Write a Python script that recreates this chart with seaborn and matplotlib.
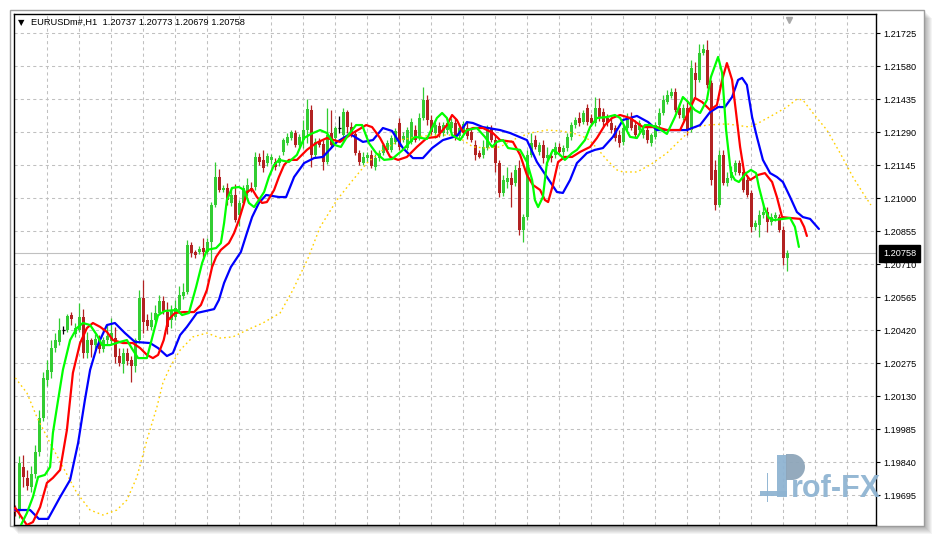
import numpy as np
import pandas as pd
import matplotlib
matplotlib.use("Agg")
import matplotlib.pyplot as plt
import matplotlib.transforms as mtransforms
from matplotlib.patches import Rectangle, Wedge
from matplotlib.ticker import FormatStrFormatter
import seaborn as sns

# ---------------- data (EURUSDm#, H1) ----------------
open_ = [
    1.19640, 1.19631, 1.19820, 1.19772, 1.19732, 1.19789, 1.19886, 1.20035, 1.20202, 1.20237,
    1.20342, 1.20369, 1.20423, 1.20421, 1.20487, 1.20404, 1.20421, 1.20478, 1.20320, 1.20377,
    1.20355, 1.20382, 1.20338, 1.20377, 1.20373, 1.20386, 1.20307, 1.20272, 1.20320, 1.20290,
    1.20263, 1.20377, 1.20562, 1.20465, 1.20435, 1.20465, 1.20496, 1.20549, 1.20500, 1.20465,
    1.20478, 1.20509, 1.20571, 1.20588, 1.20794, 1.20764, 1.20764, 1.20781, 1.20764, 1.20808,
    1.20970, 1.21093, 1.21036, 1.21045, 1.20979, 1.21014, 1.20926, 1.20979, 1.21023, 1.21045,
    1.21049, 1.21181, 1.21168, 1.21154, 1.21168, 1.21159, 1.21154, 1.21203, 1.21242, 1.21264,
    1.21286, 1.21233, 1.21255, 1.21299, 1.21387, 1.21190, 1.21251, 1.21238, 1.21159, 1.21286,
    1.21264, 1.21308, 1.21277, 1.21378, 1.21312, 1.21282, 1.21198, 1.21154, 1.21176, 1.21190,
    1.21137, 1.21176, 1.21198, 1.21212, 1.21212, 1.21247, 1.21330, 1.21255, 1.21220, 1.21247,
    1.21299, 1.21269, 1.21352, 1.21431, 1.21343, 1.21286, 1.21317, 1.21286, 1.21299, 1.21308,
    1.21330, 1.21273, 1.21295, 1.21308, 1.21290, 1.21233, 1.21198, 1.21190, 1.21220, 1.21308,
    1.21255, 1.21154, 1.21023, 1.21071, 1.21089, 1.21067, 1.21133, 1.20860, 1.20917, 1.21190,
    1.21255, 1.21203, 1.21233, 1.21176, 1.21185, 1.21190, 1.21225, 1.21203, 1.21220, 1.21269,
    1.21321, 1.21352, 1.21334, 1.21396, 1.21352, 1.21330, 1.21396, 1.21378, 1.21352, 1.21330,
    1.21308, 1.21277, 1.21247, 1.21308, 1.21352, 1.21321, 1.21299, 1.21277, 1.21299, 1.21242,
    1.21269, 1.21321, 1.21374, 1.21422, 1.21449, 1.21466, 1.21396, 1.21352, 1.21396, 1.21299,
    1.21550, 1.21519, 1.21637, 1.21650, 1.21506, 1.21124, 1.20970, 1.21190, 1.21067, 1.21089,
    1.21115, 1.21154, 1.21115, 1.21080, 1.21023, 1.20874, 1.20882, 1.20926, 1.20939, 1.20895,
    1.20913, 1.20917, 1.20860, 1.20737]
high_ = [
    1.19653, 1.19868, 1.19873, 1.19807, 1.19824, 1.19916, 1.20070, 1.20237, 1.20290, 1.20377,
    1.20408, 1.20474, 1.20439, 1.20492, 1.20500, 1.20452, 1.20540, 1.20513, 1.20413, 1.20386,
    1.20404, 1.20399, 1.20391, 1.20443, 1.20474, 1.20434, 1.20342, 1.20342, 1.20342, 1.20307,
    1.20386, 1.20597, 1.20641, 1.20492, 1.20500, 1.20531, 1.20575, 1.20571, 1.20544, 1.20531,
    1.20553, 1.20615, 1.20628, 1.20816, 1.20808, 1.20773, 1.20790, 1.20825, 1.20825, 1.20983,
    1.21159, 1.21128, 1.21058, 1.21067, 1.21049, 1.21062, 1.20992, 1.21058, 1.21089, 1.21071,
    1.21203, 1.21198, 1.21212, 1.21198, 1.21194, 1.21176, 1.21190, 1.21264, 1.21286, 1.21299,
    1.21299, 1.21282, 1.21343, 1.21435, 1.21409, 1.21264, 1.21264, 1.21255, 1.21396, 1.21387,
    1.21317, 1.21361, 1.21396, 1.21387, 1.21334, 1.21299, 1.21212, 1.21203, 1.21203, 1.21212,
    1.21194, 1.21212, 1.21242, 1.21255, 1.21277, 1.21308, 1.21352, 1.21290, 1.21312, 1.21352,
    1.21321, 1.21374, 1.21488, 1.21453, 1.21365, 1.21334, 1.21334, 1.21334, 1.21352, 1.21352,
    1.21348, 1.21326, 1.21339, 1.21334, 1.21308, 1.21255, 1.21212, 1.21255, 1.21321, 1.21321,
    1.21277, 1.21168, 1.21102, 1.21137, 1.21115, 1.21146, 1.21168, 1.20930, 1.21212, 1.21286,
    1.21277, 1.21247, 1.21255, 1.21225, 1.21203, 1.21247, 1.21242, 1.21233, 1.21286, 1.21334,
    1.21356, 1.21378, 1.21387, 1.21413, 1.21370, 1.21444, 1.21440, 1.21396, 1.21370, 1.21352,
    1.21321, 1.21299, 1.21321, 1.21374, 1.21378, 1.21343, 1.21343, 1.21321, 1.21321, 1.21286,
    1.21334, 1.21396, 1.21453, 1.21475, 1.21484, 1.21484, 1.21413, 1.21413, 1.21431, 1.21607,
    1.21598, 1.21677, 1.21677, 1.21694, 1.21519, 1.21168, 1.21212, 1.21212, 1.21115, 1.21141,
    1.21168, 1.21168, 1.21133, 1.21097, 1.21036, 1.20904, 1.20948, 1.20979, 1.20961, 1.20935,
    1.20939, 1.20930, 1.20878, 1.20773]
low_ = [
    1.19605, 1.19596, 1.19732, 1.19719, 1.19710, 1.19772, 1.19868, 1.20022, 1.20175, 1.20211,
    1.20325, 1.20355, 1.20404, 1.20413, 1.20443, 1.20391, 1.20413, 1.20298, 1.20298, 1.20303,
    1.20333, 1.20320, 1.20325, 1.20355, 1.20355, 1.20276, 1.20263, 1.20232, 1.20268, 1.20193,
    1.20237, 1.20364, 1.20408, 1.20421, 1.20421, 1.20456, 1.20487, 1.20492, 1.20404, 1.20430,
    1.20465, 1.20500, 1.20557, 1.20579, 1.20742, 1.20737, 1.20755, 1.20742, 1.20755, 1.20698,
    1.20961, 1.21027, 1.21027, 1.20970, 1.20966, 1.20895, 1.20878, 1.20970, 1.21010, 1.21027,
    1.21036, 1.21146, 1.21115, 1.21141, 1.21150, 1.21124, 1.21141, 1.21190, 1.21233, 1.21255,
    1.21225, 1.21225, 1.21220, 1.21242, 1.21137, 1.21176, 1.21225, 1.21124, 1.21150, 1.21225,
    1.21255, 1.21286, 1.21255, 1.21286, 1.21269, 1.21190, 1.21146, 1.21146, 1.21159, 1.21133,
    1.21124, 1.21163, 1.21190, 1.21203, 1.21203, 1.21238, 1.21212, 1.21247, 1.21212, 1.21238,
    1.21247, 1.21255, 1.21343, 1.21321, 1.21277, 1.21264, 1.21269, 1.21273, 1.21282, 1.21295,
    1.21255, 1.21260, 1.21282, 1.21260, 1.21247, 1.21168, 1.21176, 1.21176, 1.21212, 1.21247,
    1.21115, 1.21005, 1.21010, 1.21045, 1.20961, 1.21053, 1.20838, 1.20808, 1.20904, 1.21181,
    1.21216, 1.21190, 1.21154, 1.21146, 1.21159, 1.21176, 1.21190, 1.21181, 1.21207, 1.21255,
    1.21308, 1.21317, 1.21326, 1.21321, 1.21317, 1.21317, 1.21339, 1.21312, 1.21317, 1.21286,
    1.21251, 1.21225, 1.21233, 1.21299, 1.21299, 1.21264, 1.21286, 1.21264, 1.21242, 1.21229,
    1.21260, 1.21312, 1.21365, 1.21413, 1.21440, 1.21378, 1.21352, 1.21343, 1.21277, 1.21290,
    1.21444, 1.21510, 1.21629, 1.21484, 1.21058, 1.20948, 1.20961, 1.21058, 1.21053, 1.21080,
    1.21102, 1.21102, 1.21027, 1.21005, 1.20852, 1.20860, 1.20830, 1.20913, 1.20852, 1.20882,
    1.20900, 1.20852, 1.20707, 1.20679]
close_ = [
    1.19622, 1.19837, 1.19776, 1.19737, 1.19789, 1.19886, 1.20035, 1.20211, 1.20246, 1.20342,
    1.20377, 1.20421, 1.20423, 1.20483, 1.20470, 1.20430, 1.20478, 1.20320, 1.20377, 1.20355,
    1.20382, 1.20338, 1.20377, 1.20395, 1.20408, 1.20303, 1.20276, 1.20320, 1.20285, 1.20263,
    1.20377, 1.20562, 1.20456, 1.20439, 1.20465, 1.20496, 1.20549, 1.20505, 1.20435, 1.20509,
    1.20518, 1.20575, 1.20588, 1.20794, 1.20759, 1.20751, 1.20777, 1.20764, 1.20808, 1.20970,
    1.21093, 1.21036, 1.21045, 1.20992, 1.21014, 1.20904, 1.20979, 1.21045, 1.21058, 1.21036,
    1.21181, 1.21159, 1.21133, 1.21185, 1.21181, 1.21137, 1.21176, 1.21255, 1.21269, 1.21290,
    1.21233, 1.21269, 1.21299, 1.21392, 1.21190, 1.21247, 1.21233, 1.21159, 1.21277, 1.21233,
    1.21308, 1.21308, 1.21378, 1.21312, 1.21282, 1.21198, 1.21159, 1.21181, 1.21190, 1.21141,
    1.21176, 1.21198, 1.21233, 1.21242, 1.21264, 1.21295, 1.21225, 1.21273, 1.21299, 1.21334,
    1.21255, 1.21352, 1.21431, 1.21343, 1.21290, 1.21321, 1.21286, 1.21321, 1.21330, 1.21334,
    1.21273, 1.21308, 1.21326, 1.21273, 1.21255, 1.21190, 1.21181, 1.21225, 1.21312, 1.21255,
    1.21154, 1.21023, 1.21080, 1.21089, 1.21058, 1.21124, 1.20860, 1.20917, 1.21190, 1.21242,
    1.21225, 1.21233, 1.21176, 1.21190, 1.21176, 1.21225, 1.21203, 1.21220, 1.21269, 1.21321,
    1.21343, 1.21330, 1.21374, 1.21334, 1.21330, 1.21396, 1.21352, 1.21334, 1.21330, 1.21299,
    1.21264, 1.21242, 1.21308, 1.21352, 1.21308, 1.21277, 1.21330, 1.21299, 1.21255, 1.21277,
    1.21321, 1.21374, 1.21431, 1.21453, 1.21466, 1.21387, 1.21365, 1.21396, 1.21299, 1.21572,
    1.21519, 1.21637, 1.21655, 1.21497, 1.21080, 1.20970, 1.21190, 1.21067, 1.21089, 1.21115,
    1.21154, 1.21110, 1.21036, 1.21014, 1.20874, 1.20891, 1.20926, 1.20939, 1.20895, 1.20917,
    1.20926, 1.20860, 1.20737, 1.20758]

# Alligator-style lines: (bar position, price)
jaw_pts = [
    (0, 1.19631), (3.7, 1.19631), (5.9, 1.19592), (8.2, 1.19592), (11.2, 1.19688), (13.7, 1.19763),
    (15.7, 1.19925), (17.4, 1.20114), (18.7, 1.20246), (20.4, 1.20347), (22.9, 1.20443), (24.9, 1.20452),
    (27.4, 1.20408), (29.9, 1.20369), (33.7, 1.20364), (35.7, 1.20342), (37.9, 1.20307), (39.4, 1.20320),
    (41.2, 1.20399), (42.9, 1.20435), (45.4, 1.20496), (49.7, 1.20513), (50.9, 1.20553), (52.2, 1.20628),
    (53.9, 1.20698), (56.4, 1.20764), (57.9, 1.20847), (59.2, 1.20917), (60.9, 1.20979), (62.7, 1.21014),
    (65.9, 1.21005), (67.7, 1.21005), (69.7, 1.21093), (72.2, 1.21154), (74.7, 1.21176), (76.9, 1.21181),
    (80.4, 1.21247), (83.7, 1.21282), (86.9, 1.21247), (89.4, 1.21255), (91.9, 1.21308), (94.2, 1.21295),
    (96.9, 1.21220), (99.4, 1.21176), (101.9, 1.21176), (104.2, 1.21220), (106.9, 1.21255), (110.4, 1.21273),
    (112.9, 1.21334), (114.4, 1.21330), (116.9, 1.21312), (121.2, 1.21299), (123.7, 1.21286), (127.9, 1.21255),
    (130.4, 1.21159), (132.9, 1.21093), (135.4, 1.21027), (136.9, 1.21023), (138.7, 1.21080), (140.4, 1.21154),
    (142.9, 1.21198), (144.9, 1.21212), (146.9, 1.21220), (149.4, 1.21269), (151.9, 1.21343), (155.4, 1.21361),
    (158.2, 1.21334), (160.4, 1.21299), (167.9, 1.21299), (171.2, 1.21321), (173.7, 1.21378), (175.7, 1.21400),
    (177.4, 1.21400), (179.2, 1.21444), (180.7, 1.21519), (181.7, 1.21528), (182.9, 1.21497), (184.2, 1.21356),
    (185.4, 1.21269), (186.9, 1.21168), (188.7, 1.21110), (190.4, 1.21093), (191.9, 1.21071), (193.7, 1.21005),
    (195.4, 1.20939), (196.9, 1.20917), (198.7, 1.20909), (200.9, 1.20865)]
teeth_pts = [
    (0, 1.19640), (2.9, 1.19565), (4.4, 1.19578), (6.2, 1.19644), (7.9, 1.19750), (9.4, 1.19772),
    (11.2, 1.19807), (12.9, 1.19982), (14.4, 1.20233), (16.2, 1.20364), (17.9, 1.20430), (19.4, 1.20452),
    (21.2, 1.20435), (22.9, 1.20413), (24.4, 1.20377), (26.9, 1.20364), (29.4, 1.20364), (31.2, 1.20342),
    (32.9, 1.20312), (34.4, 1.20298), (35.7, 1.20312), (37.1, 1.20377), (38.2, 1.20465), (39.9, 1.20496),
    (42.2, 1.20500), (44.7, 1.20500), (46.4, 1.20531), (47.9, 1.20597), (49.2, 1.20698), (50.2, 1.20742),
    (51.4, 1.20773), (53.4, 1.20803), (54.7, 1.20847), (55.9, 1.20904), (57.2, 1.20979), (57.9, 1.21027),
    (59.2, 1.21040), (60.4, 1.21005), (61.7, 1.20979), (62.9, 1.20983), (64.7, 1.21036), (65.9, 1.21093),
    (67.2, 1.21146), (68.4, 1.21168), (70.4, 1.21168), (72.9, 1.21212), (75.2, 1.21242), (77.9, 1.21264),
    (81.2, 1.21247), (84.4, 1.21286), (87.7, 1.21321), (89.2, 1.21312), (91.2, 1.21264), (93.7, 1.21181),
    (95.7, 1.21168), (97.9, 1.21181), (100.4, 1.21225), (102.9, 1.21264), (105.4, 1.21269), (107.9, 1.21321),
    (109.2, 1.21365), (110.4, 1.21343), (111.9, 1.21290), (114.4, 1.21308), (116.9, 1.21308), (119.4, 1.21286),
    (121.2, 1.21255), (124.4, 1.21247), (126.2, 1.21190), (127.9, 1.21102), (129.4, 1.21058), (131.2, 1.21036),
    (132.4, 1.20992), (133.2, 1.20983), (134.4, 1.21058), (135.7, 1.21159), (137.4, 1.21181), (139.2, 1.21181),
    (141.2, 1.21203), (143.7, 1.21225), (145.4, 1.21264), (147.4, 1.21321), (149.2, 1.21352), (151.2, 1.21365),
    (153.7, 1.21352), (156.9, 1.21312), (160.4, 1.21312), (162.9, 1.21299), (166.2, 1.21299), (168.2, 1.21374),
    (169.9, 1.21440), (171.7, 1.21422), (173.7, 1.21387), (175.4, 1.21409), (176.7, 1.21519), (177.9, 1.21593),
    (179.2, 1.21519), (180.2, 1.21374), (181.2, 1.21225), (182.2, 1.21115), (183.7, 1.21080), (185.7, 1.21102),
    (187.4, 1.21110), (189.2, 1.21071), (190.4, 1.21005), (191.7, 1.20917), (193.7, 1.20913), (196.2, 1.20909),
    (197.2, 1.20874), (197.9, 1.20834)]
lips_pts = [
    (1.2, 1.19557), (2.9, 1.19618), (4.4, 1.19688), (5.7, 1.19776), (7.4, 1.19785), (8.7, 1.19820),
    (9.4, 1.19969), (10.7, 1.20114), (11.9, 1.20246), (13.7, 1.20377), (15.4, 1.20430), (16.9, 1.20452),
    (18.7, 1.20443), (20.4, 1.20399), (21.7, 1.20355), (23.7, 1.20355), (26.2, 1.20369), (27.9, 1.20377),
    (29.4, 1.20333), (30.7, 1.20298), (32.9, 1.20298), (34.2, 1.20386), (35.7, 1.20487), (37.4, 1.20505),
    (40.4, 1.20509), (41.7, 1.20487), (43.4, 1.20496), (45.2, 1.20610), (46.7, 1.20715), (47.9, 1.20773),
    (50.2, 1.20781), (51.4, 1.20803), (52.2, 1.20891), (52.9, 1.20992), (54.2, 1.21045), (55.9, 1.21049),
    (57.2, 1.21036), (58.4, 1.20979), (59.7, 1.20961), (60.9, 1.20992), (62.2, 1.21027), (63.4, 1.21093),
    (64.7, 1.21146), (65.9, 1.21168), (68.4, 1.21159), (70.4, 1.21190), (72.2, 1.21264), (73.9, 1.21282),
    (76.2, 1.21299), (77.9, 1.21286), (79.9, 1.21233), (81.4, 1.21225), (82.9, 1.21269), (85.2, 1.21321),
    (86.7, 1.21321), (88.4, 1.21242), (90.2, 1.21198), (92.2, 1.21168), (94.2, 1.21172), (96.9, 1.21212),
    (98.7, 1.21247), (99.9, 1.21269), (102.9, 1.21260), (105.4, 1.21352), (106.7, 1.21374), (107.9, 1.21352),
    (109.2, 1.21277), (111.2, 1.21255), (112.9, 1.21299), (115.4, 1.21308), (117.4, 1.21269), (119.2, 1.21225),
    (120.4, 1.21247), (121.9, 1.21255), (123.2, 1.21220), (126.2, 1.21212), (127.9, 1.21159), (129.2, 1.21080),
    (129.9, 1.20992), (130.7, 1.20961), (131.9, 1.21005), (132.9, 1.21154), (134.4, 1.21212), (136.2, 1.21190),
    (137.4, 1.21168), (139.2, 1.21198), (140.4, 1.21212), (142.4, 1.21255), (143.7, 1.21312), (145.4, 1.21352),
    (147.9, 1.21356), (149.9, 1.21365), (151.2, 1.21352), (153.7, 1.21269), (155.4, 1.21264), (157.4, 1.21321),
    (158.7, 1.21321), (160.7, 1.21308), (162.9, 1.21282), (164.9, 1.21356), (166.9, 1.21444), (168.2, 1.21422),
    (169.9, 1.21387), (171.2, 1.21374), (172.9, 1.21431), (173.9, 1.21532), (175.7, 1.21620), (176.7, 1.21550),
    (177.7, 1.21299), (178.9, 1.21110), (179.9, 1.21080), (180.9, 1.21071), (182.7, 1.21110), (183.9, 1.21124),
    (185.2, 1.21110), (185.9, 1.21049), (187.2, 1.20961), (188.4, 1.20913), (189.7, 1.20904), (193.7, 1.20913),
    (194.9, 1.20874), (195.9, 1.20786)]
ma_pts = [
    (0, 1.20211), (2.9, 1.20145), (5.4, 1.20039), (8.7, 1.19925), (11.9, 1.19820), (15.4, 1.19706),
    (18.7, 1.19631), (21.9, 1.19609), (25.4, 1.19631), (27.9, 1.19675), (30.4, 1.19776), (32.9, 1.19938),
    (35.4, 1.20083), (36.9, 1.20189), (38.7, 1.20259), (41.2, 1.20333), (44.4, 1.20391), (47.9, 1.20408),
    (51.2, 1.20386), (54.4, 1.20391), (57.9, 1.20421), (61.9, 1.20452), (66.2, 1.20496), (69.4, 1.20597),
    (73.2, 1.20737), (76.2, 1.20873), (80.4, 1.20992), (84.4, 1.21080), (87.9, 1.21154), (91.9, 1.21212),
    (96.2, 1.21255), (100.4, 1.21269), (104.4, 1.21277), (108.7, 1.21277), (111.9, 1.21255), (114.4, 1.21225),
    (117.9, 1.21220), (121.2, 1.21225), (125.4, 1.21264), (128.7, 1.21286), (132.9, 1.21299), (136.2, 1.21295),
    (139.4, 1.21286), (142.9, 1.21264), (145.4, 1.21220), (147.9, 1.21168), (150.4, 1.21124), (151.9, 1.21115),
    (155.4, 1.21115), (158.7, 1.21146), (162.9, 1.21198), (166.2, 1.21255), (169.4, 1.21308), (172.9, 1.21321),
    (177.9, 1.21326), (183.7, 1.21312), (186.2, 1.21334), (189.4, 1.21365), (192.9, 1.21400), (195.4, 1.21435),
    (196.9, 1.21431), (199.4, 1.21374), (202.9, 1.21299), (206.2, 1.21198), (209.4, 1.21093), (211.9, 1.21023),
    (213.9, 1.20970)]

title_symbol = "EURUSDm#,H1"
title_ohlc = ["1.20737", "1.20773", "1.20679", "1.20758"]
last_price = 1.20758
price_ticks = [1.19695, 1.19840, 1.19985, 1.20130, 1.20275, 1.20420, 1.20565, 1.20710,
               1.20855, 1.21000, 1.21145, 1.21290, 1.21435, 1.21580, 1.21725]

# ---------------- style ----------------
sns.set_theme(style="white")
plt.rcParams['font.family'] = ['Liberation Sans', 'DejaVu Sans']

W, H = 935, 537
fig = plt.figure(figsize=(W / 100, H / 100), dpi=100)
fig.patch.set_facecolor('white')


def fx(x):
    return x / W


def fy(y):
    return 1 - y / H


# window shadow + frame
for k in range(1, 9):
    fig.add_artist(Rectangle((fx(10 + k), fy(526 + k)), 914 / W, 516 / H,
                             transform=fig.transFigure, facecolor='black',
                             alpha=0.045, edgecolor='none', zorder=-3))
fig.add_artist(Rectangle((fx(10), fy(526)), 914 / W, 516 / H, transform=fig.transFigure,
                         facecolor='white', edgecolor='#9c9c9c', linewidth=1.0, zorder=-2))

ax = fig.add_axes([fx(13.5), fy(525), (876 - 13.5) / W, (525 - 14) / H])
ax.set_facecolor('white')

GREEN = '#32cd32'
RED = '#b22222'

df = pd.DataFrame({'o': open_, 'h': high_, 'l': low_, 'c': close_})
df['bar'] = np.arange(len(df))
up = df[df.c > df.o]
dn = df[df.c < df.o]
dj = df[df.c == df.o]

ax.vlines(up.bar, up.l, up.h, color=GREEN, lw=0.9, zorder=2)
ax.bar(up.bar, up.c - up.o, bottom=up.o, width=0.8, color=GREEN, linewidth=0, zorder=3)
ax.vlines(dn.bar, dn.l, dn.h, color=RED, lw=0.9, zorder=2)
ax.bar(dn.bar, dn.o - dn.c, bottom=dn.c, width=0.8, color=RED, linewidth=0, zorder=3)
ax.vlines(dj.bar, dj.l, dj.h, color='black', lw=0.9, zorder=2)
ax.hlines(dj.c, dj.bar - 0.45, dj.bar + 0.45, color='black', lw=0.9, zorder=3)

# indicator lines
ma_df = pd.DataFrame(ma_pts, columns=['bar', 'price'])
sns.lineplot(data=ma_df, x='bar', y='price', ax=ax, color='#ffd000', lw=1.0,
             linestyle=(0, (1.2, 2.2)), sort=False, estimator=None, zorder=4)
for pts, col in [(jaw_pts, '#0000ff'), (teeth_pts, '#ff0000'), (lips_pts, '#00ff00')]:
    d = pd.DataFrame(pts, columns=['bar', 'price'])
    sns.lineplot(data=d, x='bar', y='price', ax=ax, color=col, lw=1.6,
                 sort=False, estimator=None, zorder=5)

# current price line
ax.axhline(last_price, color='#c0c0c0', lw=0.8, zorder=1)

# axes setup
ax.set_xlim(-0.45, 215.175)
ax.set_ylim(1.195652, 1.218085)
ax.set_xticks(7.925 + 8 * np.arange(26))
ax.set_yticks(price_ticks)
ax.yaxis.tick_right()
ax.yaxis.set_major_formatter(FormatStrFormatter('%.5f'))
ax.set_xlabel('')
ax.set_ylabel('')
ax.tick_params(axis='x', length=0, bottom=False, labelbottom=False)
ax.tick_params(axis='y', which='both', right=True, left=False, length=3, width=0.8,
               color='black', labelsize=6.6, pad=2.4, labelcolor='black', direction='out')
ax.grid(True, color='#c0c0c0', linestyle=(0, (3, 3)), linewidth=0.75)
ax.set_axisbelow(True)
for s in ax.spines.values():
    s.set_visible(True)
    s.set_color('black')
    s.set_linewidth(1.0)

# current price box
trans = mtransforms.blended_transform_factory(ax.transAxes, ax.transData)
ax.text(1.0 + 7 / 862.5, last_price, f"{last_price:.5f}", transform=trans, ha='left',
        va='center', color='white', fontsize=6.6, zorder=10, clip_on=False,
        bbox=dict(boxstyle='square,pad=0.45', facecolor='black', edgecolor='black'))

# chart shift marker
ax.plot([193.5], [0.988], marker='v', color='#a8a8a8', ms=5,
        transform=mtransforms.blended_transform_factory(ax.transData, ax.transAxes),
        clip_on=False, zorder=6, linestyle='none')

# title
fig.text(fx(17.5), fy(22.5), "\u25bc", fontsize=6.0, color='black', ha='left', va='center',
         family=['DejaVu Sans'])
fig.text(fx(30.5), fy(22.5), title_symbol + "  " + " ".join(title_ohlc), fontsize=6.7,
         color='black', ha='left', va='center')

# watermark (kept clear of the price-axis labels)
WM = '#8fb4d2'
dx = -13
fig.add_artist(Rectangle((fx(773 + dx), fy(496)), 27 / W, 5 / H, transform=fig.transFigure,
                         facecolor=WM, edgecolor='none', zorder=20, alpha=0.95))
fig.add_artist(Rectangle((fx(779.5 + dx), fy(502)), 1.2 / W, 29 / H, transform=fig.transFigure,
                         facecolor=WM, edgecolor='none', zorder=20, alpha=0.95))
fig.add_artist(Rectangle((fx(790 + dx), fy(497)), 10 / W, 42 / H, transform=fig.transFigure,
                         facecolor=WM, edgecolor='none', zorder=20, alpha=0.95))
fig.add_artist(Rectangle((fx(799 + dx), fy(480)), 6 / W, 26 / H, transform=fig.transFigure,
                         facecolor='#8ea6ba', edgecolor='none', zorder=20, alpha=0.95))
fig.add_artist(Wedge((805 + dx, H - 467), 13, -90, 90, transform=mtransforms.IdentityTransform(),
                     facecolor='#8ea6ba', edgecolor='none', zorder=20, alpha=0.95))
fig.text(fx(804 + dx), fy(497), "rof-FX", fontsize=22, fontweight='bold', color=WM,
         ha='left', va='baseline', family=['Liberation Sans', 'DejaVu Sans'], zorder=21, alpha=0.95)

fig.savefig('out.png', dpi=100, facecolor='white')
